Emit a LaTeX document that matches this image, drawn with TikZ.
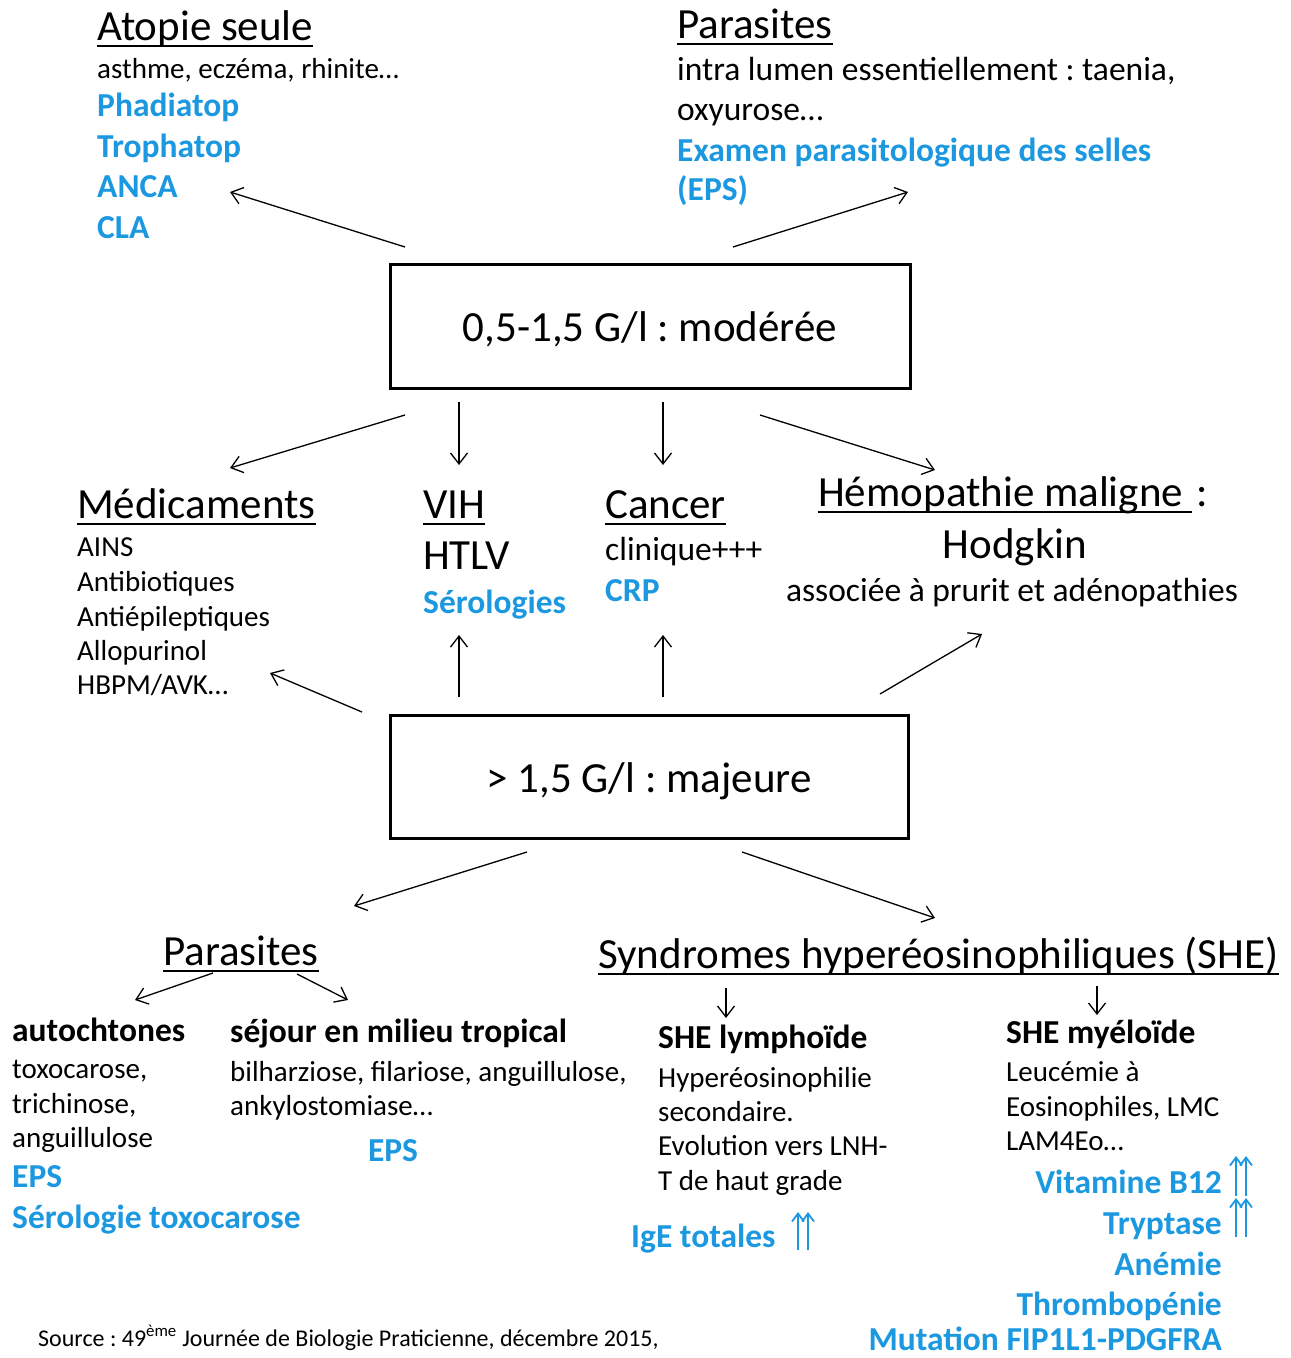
\documentclass[tikz,border=0pt]{standalone}
\usepackage{fontspec}
\setmainfont{Carlito}
\frenchspacing
\usetikzlibrary{arrows.meta}
\definecolor{bleu}{RGB}{27,152,224}
\tikzstyle{boite}=[draw, line width=3pt, minimum width=520pt, minimum height=124pt, text height=30pt, text depth=0pt, font=\fontsize{43}{50}\selectfont]
\tikzstyle{titre}=[anchor=base west, inner sep=0pt, font=\fontsize{43}{50}\selectfont]
\tikzstyle{texte}=[anchor=base west, inner sep=0pt, font=\fontsize{29}{35}\selectfont]
\tikzstyle{grand}=[anchor=base west, inner sep=0pt, font=\fontsize{33.5}{40}\selectfont]
\tikzstyle{gras}=[anchor=base west, inner sep=0pt, font=\fontsize{33.5}{40}\selectfont\bfseries]
\tikzstyle{examen}=[gras, text=bleu]
\tikzstyle{souligne}=[draw, line width=2pt]
\tikzstyle{arrow}=[draw=black, line width=1.3pt, -{Straight Barb[length=11pt,width=17pt]}]
\tikzstyle{hausse}=[draw=bleu, line width=1.8pt, -{Straight Barb[length=8pt,width=12pt]}]

\begin{document}
\begin{tikzpicture}[x=1pt, y=-1pt]
	\useasboundingbox (0,0) rectangle (1291,1358);
	% les deux niveaux
	\begin{scope}
		\node (moderee) at (650,326) [boite] {0,5-1,5 G/l : modérée};
		\node (majeure) at (649,777) [boite, minimum width=518pt, minimum height=123pt] {> 1,5 G/l : majeure};
	\end{scope}
	% atopie
	\begin{scope}
		\node (atopie) at (97,40) [titre] {Atopie seule};
		\node (asthme) at (97,78) [texte] {asthme, eczéma, rhinite…};
		\node (phadiatop) at (97,116) [examen] {Phadiatop};
		\node (trophatop) at (97,157) [examen] {Trophatop};
		\node (anca) at (97,197) [examen] {ANCA};
		\node (cla) at (97,238) [examen] {CLA};
	\end{scope}
	% parasites (haut)
	\begin{scope}
		\node (parasitesh) at (677,38) [titre] {Parasites};
		\node (lumen) at (677,80) [grand] {intra lumen essentiellement : taenia,};
		\node (oxyurose) at (677,120) [grand] {oxyurose…};
		\node (examen) at (677,161) [examen] {Examen parasitologique des selles};
		\node (epsh) at (677,200) [examen] {(EPS)};
	\end{scope}
	% medicaments
	\begin{scope}
		\node (medic) at (77,518) [titre] {Médicaments};
		\node (ains) at (77,556) [texte] {AINS};
		\node (antibio) at (77,591) [texte] {Antibiotiques};
		\node (antiepi) at (77,626) [texte] {Antiépileptiques};
		\node (allo) at (77,660) [texte] {Allopurinol};
		\node (hbpm) at (77,694) [texte] {HBPM/AVK…};
	\end{scope}
	% vih, cancer, hemopathie
	\begin{scope}
		\node (vih) at (423,518) [titre] {VIH};
		\node (htlv) at (423,569) [titre] {HTLV};
		\node (serologies) at (423,613) [examen] {Sérologies};
		\node (cancer) at (605,518) [titre] {Cancer};
		\node (clinique) at (605,560) [grand] {clinique+++};
		\node (crp) at (605,601) [examen] {CRP};
		\node (hemo) at (818,506) [titre] {Hémopathie maligne};
		\node (deuxpts) at (1196,506) [titre] {:};
		\node (hodgkin) at (1015,558) [titre, anchor=base] {Hodgkin};
		\node (prurit) at (1012,601) [grand, anchor=base] {associée à prurit et adénopathies};
	\end{scope}
	% parasites (bas)
	\begin{scope}
		\node (parasitesb) at (163,965) [titre] {Parasites};
		\node (autoch) at (12,1041) [gras] {autochtones};
		\node (toxo) at (12,1078) [texte] {toxocarose,};
		\node (trichi) at (12,1113) [texte] {trichinose,};
		\node (anguil) at (12,1147) [texte] {anguillulose};
		\node (epsa) at (12,1187) [examen] {EPS};
		\node (serotoxo) at (12,1228) [examen] {Sérologie toxocarose};
		\node (sejour) at (230,1042) [gras] {séjour en milieu tropical};
		\node (bilhar) at (230,1081) [texte] {bilharziose, filariose, anguillulose,};
		\node (ankylo) at (230,1115) [texte] {ankylostomiase…};
		\node (epst) at (393,1161) [examen, anchor=base] {EPS};
	\end{scope}
	% syndromes hypereosinophiliques
	\begin{scope}
		\node (she) at (598,968) [titre] {Syndromes hyperéosinophiliques (SHE)};
		\node (lympho) at (658,1048) [gras] {SHE lymphoïde};
		\node (hyper) at (658,1087) [texte] {Hyperéosinophilie};
		\node (second) at (658,1121) [texte] {secondaire.};
		\node (evol) at (658,1155) [texte] {Evolution vers LNH-};
		\node (tgrade) at (658,1190) [texte] {T de haut grade};
		\node (ige) at (631,1247) [examen] {IgE totales};
		\node (myelo) at (1006,1043) [gras] {SHE myéloïde};
		\node (leuc) at (1006,1081) [texte] {Leucémie à};
		\node (eosino) at (1006,1116) [texte] {Eosinophiles, LMC};
		\node (lam) at (1006,1150) [texte] {LAM4Eo…};
		\node (vitb) at (1222,1193) [examen, anchor=base east] {Vitamine B12};
		\node (tryptase) at (1222,1234) [examen, anchor=base east] {Tryptase};
		\node (anemie) at (1222,1275) [examen, anchor=base east] {Anémie};
		\node (thrombo) at (1222,1315) [examen, anchor=base east] {Thrombopénie};
		\node (mutation) at (1222,1350) [examen, anchor=base east] {Mutation FIP1L1-PDGFRA};
		\node (source) at (38,1346) [texte, font=\fontsize{24}{28}\selectfont] {Source : 49\textsuperscript{ème} Journée de Biologie Praticienne, décembre 2015,};
	\end{scope}
	% soulignements
	\begin{scope}
		\draw[souligne] ([yshift=-6pt]atopie.base west) -- ([yshift=-6pt]atopie.base east);
		\draw[souligne] ([yshift=-6pt]parasitesh.base west) -- ([yshift=-6pt]parasitesh.base east);
		\draw[souligne] ([yshift=-6pt]medic.base west) -- ([yshift=-6pt]medic.base east);
		\draw[souligne] ([yshift=-6pt]vih.base west) -- ([yshift=-6pt]vih.base east);
		\draw[souligne] ([yshift=-6pt]cancer.base west) -- ([yshift=-6pt]cancer.base east);
		\draw[souligne] ([yshift=-6pt]hemo.base west) -- ([yshift=-6pt,xshift=9pt]hemo.base east);
		\draw[souligne] ([yshift=-6pt]parasitesb.base west) -- ([yshift=-6pt]parasitesb.base east);
		\draw[souligne] ([yshift=-6pt]she.base west) -- ([yshift=-6pt]she.base east);
	\end{scope}
	% bouts des fleches
	\begin{scope}
		\coordinate (m1) at (405,247); \coordinate (m1b) at (230,192);
		\coordinate (m2) at (733,247); \coordinate (m2b) at (908,192);
		\coordinate (m3) at (405,415); \coordinate (m3b) at (230,468);
		\coordinate (m4) at (459,402); \coordinate (m4b) at (459,465);
		\coordinate (m5) at (663,402); \coordinate (m5b) at (663,465);
		\coordinate (m6) at (760,415); \coordinate (m6b) at (935,470);
		\coordinate (g1) at (362,712); \coordinate (g1b) at (270,673);
		\coordinate (g2) at (459,697); \coordinate (g2b) at (459,635);
		\coordinate (g3) at (663,697); \coordinate (g3b) at (663,635);
		\coordinate (g4) at (880,694); \coordinate (g4b) at (982,634);
		\coordinate (g5) at (527,852); \coordinate (g5b) at (354,906);
		\coordinate (g6) at (742,852); \coordinate (g6b) at (935,918);
		\coordinate (p1) at (213,973); \coordinate (p1b) at (135,1000);
		\coordinate (p2) at (297,974); \coordinate (p2b) at (348,1000);
		\coordinate (s1) at (726,988); \coordinate (s1b) at (726,1018);
		\coordinate (s2) at (1097,986); \coordinate (s2b) at (1097,1015);
	\end{scope}
	\begin{scope}
		\path (m1) edge [arrow] (m1b);
		\path (m2) edge [arrow] (m2b);
		\path (m3) edge [arrow] (m3b);
		\path (m4) edge [arrow] (m4b);
		\path (m5) edge [arrow] (m5b);
		\path (m6) edge [arrow] (m6b);
		\path (g1) edge [arrow] (g1b);
		\path (g2) edge [arrow] (g2b);
		\path (g3) edge [arrow] (g3b);
		\path (g4) edge [arrow] (g4b);
		\path (g5) edge [arrow] (g5b);
		\path (g6) edge [arrow] (g6b);
		\path (p1) edge [arrow] (p1b);
		\path (p2) edge [arrow] (p2b);
		\path (s1) edge [arrow] (s1b);
		\path (s2) edge [arrow] (s2b);
	\end{scope}
	% hausses
	\begin{scope}
		\coordinate (h1) at (798,1250); \coordinate (h1b) at (798,1212);
		\coordinate (h2) at (808,1250); \coordinate (h2b) at (808,1212);
		\coordinate (h3) at (1236,1196); \coordinate (h3b) at (1236,1156);
		\coordinate (h4) at (1246,1196); \coordinate (h4b) at (1246,1156);
		\coordinate (h5) at (1236,1237); \coordinate (h5b) at (1236,1198);
		\coordinate (h6) at (1246,1237); \coordinate (h6b) at (1246,1198);
		\path (h1) edge [hausse] (h1b);
		\path (h2) edge [hausse] (h2b);
		\path (h3) edge [hausse] (h3b);
		\path (h4) edge [hausse] (h4b);
		\path (h5) edge [hausse] (h5b);
		\path (h6) edge [hausse] (h6b);
	\end{scope}
\end{tikzpicture}
\end{document}
